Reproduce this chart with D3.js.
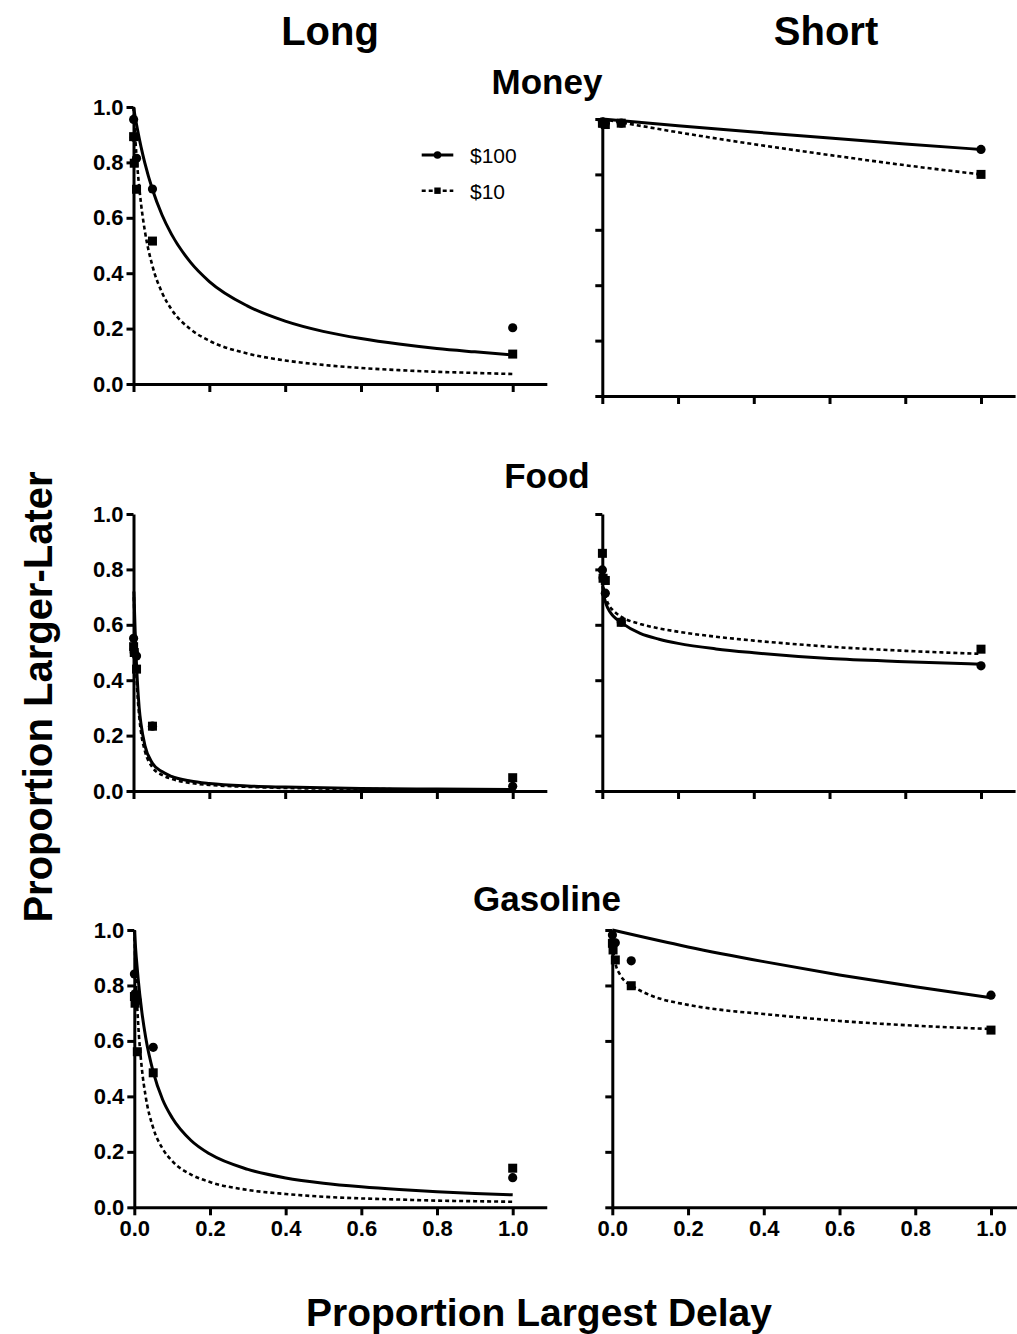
<!DOCTYPE html>
<html>
<head>
<meta charset="utf-8">
<script src="https://cdn.jsdelivr.net/npm/d3@7"></script>
<style>
  html, body { margin: 0; padding: 0; background: #fff; }
  svg { display: block; }
  text { font-family: Arial, "Liberation Sans", Helvetica, sans-serif; fill: #000; }
</style>
</head>
<body>
<svg id="chart" width="1017" height="1334"></svg>
<script>
// ---- Data ----------------------------------------------------------------
const columns = ["Long", "Short"];
const commodities = ["Money", "Food", "Gasoline"];
const amounts = ["$100", "$10"];

// Delay as a proportion of the largest delay
const delays = [0.0003, 0.002, 0.008, 0.05, 1.0];
const xTicks = [0, 0.2, 0.4, 0.6, 0.8, 1.0];
const yTicks = [0, 0.2, 0.4, 0.6, 0.8, 1.0];

// Observed proportion choosing the larger-later reward (one value per delay)
const moneyLong100 = [0.955, 0.89, 0.815, 0.704, 0.203];
const moneyLong10 = [0.893, 0.797, 0.703, 0.516, 0.108];
const moneyShort100 = [0.99, 0.985, 0.985, 0.985, 0.89];
const moneyShort10 = [0.985, 0.985, 0.98, 0.985, 0.80];
const foodLong100 = [0.551, 0.50, 0.487, 0.234, 0.017];
const foodLong10 = [0.521, 0.50, 0.44, 0.234, 0.048];
const foodShort100 = [0.798, 0.77, 0.714, 0.61, 0.452];
const foodShort10 = [0.858, 0.768, 0.76, 0.609, 0.512];
const gasLong100 = [0.841, 0.77, 0.745, 0.577, 0.107];
const gasLong10 = [0.76, 0.736, 0.561, 0.485, 0.141];
const gasShort100 = [0.982, 0.95, 0.954, 0.889, 0.765];
const gasShort10 = [0.952, 0.928, 0.892, 0.799, 0.639];

// Fitted discounting curves, [proportion of delay, proportion larger-later]
const moneyLongFit100 = [[0,1],[0.005,0.959],[0.01,0.922],[0.02,0.855],[0.03,0.797],[0.05,0.702],[0.075,0.611],[0.1,0.541],[0.15,0.44],[0.2,0.37],[0.3,0.282],[0.4,0.227],[0.5,0.19],[0.6,0.164],[0.7,0.144],[0.8,0.128],[0.9,0.116],[1.0,0.105]];
const moneyLongFit10 = [[0,1],[0.005,0.881],[0.01,0.787],[0.02,0.649],[0.03,0.552],[0.05,0.426],[0.075,0.331],[0.1,0.27],[0.15,0.198],[0.2,0.156],[0.3,0.11],[0.4,0.085],[0.5,0.069],[0.6,0.058],[0.7,0.05],[0.8,0.044],[0.9,0.04],[1.0,0.036]];
const moneyShortFit100 = [[0,1],[0.2,0.976],[0.4,0.953],[0.6,0.931],[0.8,0.91],[1.0,0.89]];
const moneyShortFit10 = [[0,1],[0.2,0.952],[0.4,0.909],[0.6,0.87],[0.8,0.833],[1.0,0.80]];
const foodLongFit100 = [[0.001,0.72],[0.005,0.55],[0.01,0.40],[0.015,0.30],[0.02,0.24],[0.03,0.165],[0.05,0.10],[0.075,0.07],[0.1,0.053],[0.15,0.036],[0.2,0.027],[0.3,0.018],[0.4,0.014],[0.6,0.009],[0.8,0.007],[1.0,0.0055]];
const foodLongFit10 = [[0.001,0.70],[0.005,0.50],[0.01,0.36],[0.015,0.27],[0.02,0.21],[0.03,0.145],[0.05,0.085],[0.075,0.058],[0.1,0.044],[0.15,0.029],[0.2,0.022],[0.3,0.015],[0.4,0.011],[0.6,0.0075],[0.8,0.0056],[1.0,0.0045]];
const foodShortFit100 = [[0.001,0.74],[0.005,0.70],[0.01,0.675],[0.02,0.647],[0.03,0.63],[0.05,0.608],[0.1,0.569],[0.15,0.548],[0.2,0.533],[0.3,0.513],[0.4,0.499],[0.6,0.478],[0.8,0.467],[1.0,0.458]];
const foodShortFit10 = [[0.001,0.76],[0.005,0.72],[0.01,0.695],[0.02,0.665],[0.03,0.65],[0.05,0.629],[0.1,0.603],[0.15,0.587],[0.2,0.575],[0.3,0.557],[0.4,0.543],[0.6,0.521],[0.8,0.506],[1.0,0.495]];
const gasLongFit100 = [[0,1],[0.005,0.905],[0.01,0.826],[0.02,0.704],[0.03,0.613],[0.05,0.488],[0.075,0.388],[0.1,0.323],[0.15,0.241],[0.2,0.192],[0.3,0.137],[0.4,0.106],[0.5,0.087],[0.6,0.074],[0.7,0.064],[0.8,0.056],[0.9,0.05],[1.0,0.045]];
const gasLongFit10 = [[0,1],[0.005,0.8],[0.01,0.667],[0.02,0.5],[0.03,0.4],[0.05,0.286],[0.075,0.211],[0.1,0.167],[0.15,0.118],[0.2,0.091],[0.3,0.0625],[0.4,0.048],[0.5,0.038],[0.6,0.032],[0.7,0.028],[0.8,0.024],[0.9,0.022],[1.0,0.02]];
const gasShortFit100 = [[0,1],[0.2,0.939],[0.4,0.886],[0.6,0.838],[0.8,0.795],[1.0,0.756]];
const gasShortFit10 = [[0.001,0.95],[0.005,0.90],[0.01,0.87],[0.02,0.84],[0.03,0.82],[0.05,0.80],[0.1,0.765],[0.2,0.73],[0.3,0.71],[0.4,0.697],[0.6,0.672],[0.8,0.655],[1.0,0.643]];

// ---- Panel assembly ----------------------------------------------------------
const panels = [
  { commodity: "Money", column: "Long", obs: [moneyLong100, moneyLong10], fits: [moneyLongFit100, moneyLongFit10] },
  { commodity: "Money", column: "Short", obs: [moneyShort100, moneyShort10], fits: [moneyShortFit100, moneyShortFit10] },
  { commodity: "Food", column: "Long", obs: [foodLong100, foodLong10], fits: [foodLongFit100, foodLongFit10] },
  { commodity: "Food", column: "Short", obs: [foodShort100, foodShort10], fits: [foodShortFit100, foodShortFit10] },
  { commodity: "Gasoline", column: "Long", obs: [gasLong100, gasLong10], fits: [gasLongFit100, gasLongFit10] },
  { commodity: "Gasoline", column: "Short", obs: [gasShort100, gasShort10], fits: [gasShortFit100, gasShortFit10] }
];

// Plot-area frames (pixel extents of x = 0..1 and y = 0..1)
const frames = {
  "Money|Long":     { x0: 133.5, x1: 512.7, yTop: 107, yBot: 384 },
  "Money|Short":    { x0: 602.3, x1: 981.0, yTop: 119, yBot: 396 },
  "Food|Long":      { x0: 133.5, x1: 512.7, yTop: 514, yBot: 791 },
  "Food|Short":     { x0: 602.3, x1: 981.0, yTop: 514, yBot: 791 },
  "Gasoline|Long":  { x0: 134.3, x1: 512.7, yTop: 930, yBot: 1207.3 },
  "Gasoline|Short": { x0: 612.3, x1: 991.0, yTop: 930, yBot: 1207.3 }
};

const titleY = { Money: 94, Food: 488, Gasoline: 911 };
const columnX = { Long: 330, Short: 826 };
const xAxisEnd = 1.09;

const svg = d3.select("#chart");
const fmt = d3.format(".1f");
const seriesStyle = [
  { dash: null, width: 3, marker: "circle" },
  { dash: "4,3", width: 2.6, marker: "square" }
];

panels.forEach(p => {
  const f = frames[p.commodity + "|" + p.column];
  const x = d3.scaleLinear().domain([0, 1]).range([f.x0, f.x1]);
  const y = d3.scaleLinear().domain([0, 1]).range([f.yBot, f.yTop]);
  const g = svg.append("g");

  // axes
  const xAxisScale = x.copy().domain([0, xAxisEnd]).range([f.x0, x(xAxisEnd)]);
  const showX = p.commodity === "Gasoline";
  const showY = p.column === "Long";

  const xa = g.append("g")
    .attr("transform", `translate(0,${f.yBot})`)
    .call(d3.axisBottom(xAxisScale).tickValues(xTicks).tickSize(8).tickSizeOuter(0).tickPadding(5)
      .tickFormat(showX ? fmt : () => ""));
  const ya = g.append("g")
    .attr("transform", `translate(${f.x0},0)`)
    .call(d3.axisLeft(y).tickValues(yTicks).tickSize(7).tickSizeOuter(0).tickPadding(3)
      .tickFormat(showY ? fmt : () => ""));
  [xa, ya].forEach(a => {
    a.selectAll("path.domain").attr("stroke", "#000").attr("stroke-width", 3);
    a.selectAll(".tick line").attr("stroke", "#000").attr("stroke-width", 3);
    a.selectAll(".tick text")
      .attr("fill", "#000")
      .style("font-size", "22px")
      .style("font-weight", "bold")
      .style("font-family", "Arial, 'Liberation Sans', sans-serif");
  });

  const line = d3.line().x(d => x(d[0])).y(d => y(d[1])).curve(d3.curveMonotoneX);

  p.fits.forEach((fit, i) => {
    const s = seriesStyle[i];
    g.append("path")
      .datum(fit)
      .attr("d", line)
      .attr("fill", "none")
      .attr("stroke", "#000")
      .attr("stroke-width", s.width)
      .attr("stroke-dasharray", s.dash);

    const pts = delays.map((dx, j) => [dx, p.obs[i][j]]);
    if (s.marker === "circle") {
      g.selectAll(null).data(pts).enter().append("circle")
        .attr("cx", d => x(d[0])).attr("cy", d => y(d[1])).attr("r", 4.6)
        .attr("fill", "#000");
    } else {
      const side = 9;
      g.selectAll(null).data(pts).enter().append("rect")
        .attr("x", d => x(d[0]) - side / 2).attr("y", d => y(d[1]) - side / 2)
        .attr("width", side).attr("height", side)
        .attr("fill", "#000");
    }
  });

  // legend in the first panel
  if (p.commodity === "Money" && p.column === "Long") {
    const leg = g.append("g");
    const rows = [155, 190.7];
    amounts.forEach((name, i) => {
      const s = seriesStyle[i];
      const ly = rows[i];
      leg.append("line")
        .attr("x1", 421.7).attr("x2", 453.3).attr("y1", ly).attr("y2", ly)
        .attr("stroke", "#000").attr("stroke-width", s.width)
        .attr("stroke-dasharray", s.dash);
      if (s.marker === "circle") {
        leg.append("circle").attr("cx", 437.5).attr("cy", ly).attr("r", 3.8).attr("fill", "#000");
      } else {
        leg.append("rect").attr("x", 434.3).attr("y", ly - 3.2).attr("width", 6.4).attr("height", 6.4).attr("fill", "#000");
      }
      leg.append("text")
        .attr("x", 470).attr("y", ly + 8)
        .style("font-size", "21px")
        .text(name);
    });
  }
});

// panel row titles
commodities.forEach(c => {
  svg.append("text")
    .attr("x", 547).attr("y", titleY[c])
    .attr("text-anchor", "middle")
    .style("font-size", "35px").style("font-weight", "bold")
    .text(c);
});

// column headers
columns.forEach(c => {
  svg.append("text")
    .attr("x", columnX[c]).attr("y", 45)
    .attr("text-anchor", "middle")
    .style("font-size", "40px").style("font-weight", "bold")
    .text(c);
});

// axis titles
svg.append("text")
  .attr("transform", "translate(52,697) rotate(-90)")
  .attr("text-anchor", "middle")
  .style("font-size", "40px").style("font-weight", "bold")
  .text("Proportion Larger-Later");

svg.append("text")
  .attr("x", 539).attr("y", 1326)
  .attr("text-anchor", "middle")
  .style("font-size", "39px").style("font-weight", "bold")
  .text("Proportion Largest Delay");
</script>
</body>
</html>
